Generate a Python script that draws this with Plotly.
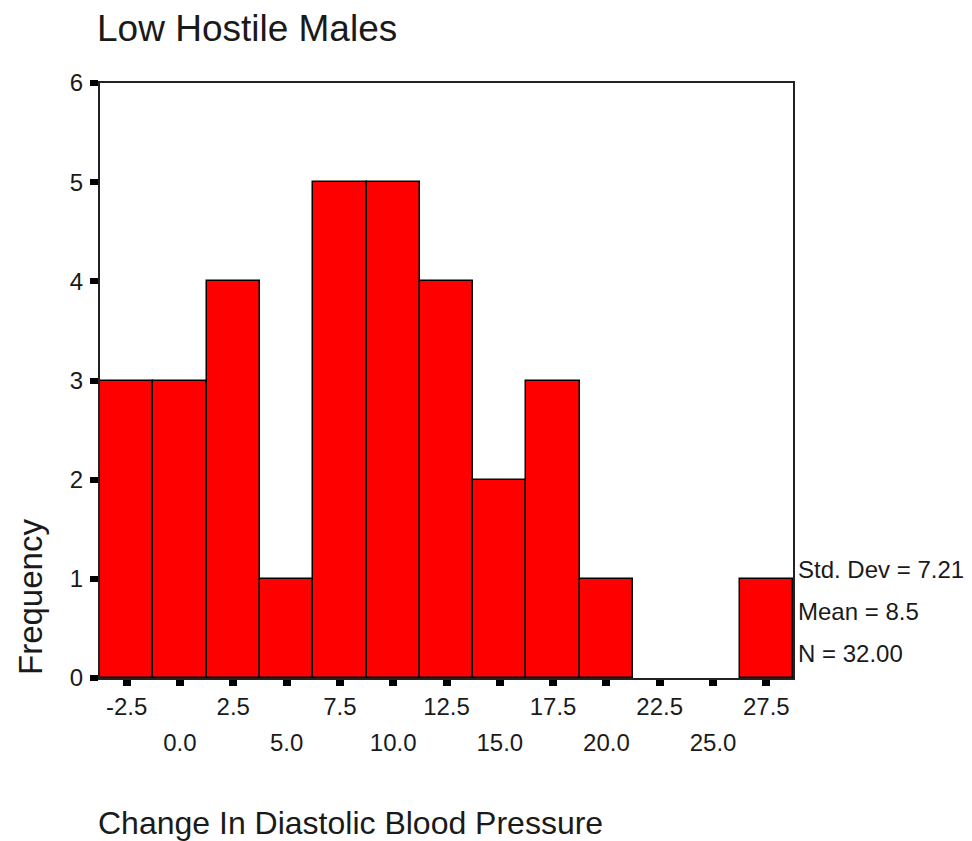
import plotly.graph_objects as go

# Data
bin_centers = [-2.5, 0.0, 2.5, 5.0, 7.5, 10.0, 12.5, 15.0, 17.5, 20.0, 22.5, 25.0, 27.5]
frequencies = [3, 3, 4, 1, 5, 5, 4, 2, 3, 1, 0, 0, 1]
bin_width = 2.5
row1_labels = ["-2.5", "", "2.5", "", "7.5", "", "12.5", "", "17.5", "", "22.5", "", "27.5"]
row2_labels = ["", "0.0", "", "5.0", "", "10.0", "", "15.0", "", "20.0", "", "25.0", ""]
y_ticks = [0, 1, 2, 3, 4, 5, 6]
stats_text = ["Std. Dev = 7.21", "Mean = 8.5", "N = 32.00"]
stats_y = [1.09, 0.67, 0.25]

FONT = "Liberation Sans, Arial, sans-serif"
TXT = "#1a1a1a"

fig = go.Figure()
fig.add_trace(go.Bar(
    x=bin_centers, y=frequencies, width=[bin_width] * len(bin_centers),
    marker=dict(color="#FF0000",
                line=dict(color="black", width=[1.5 if f > 0 else 0 for f in frequencies])),
    showlegend=False, hoverinfo="x+y",
))
# invisible trace for second axis
fig.add_trace(go.Scatter(x=[bin_centers[0]], y=[0], xaxis="x2", mode="markers",
                         marker=dict(opacity=0), showlegend=False, hoverinfo="skip"))

xr = [bin_centers[0] - bin_width / 2, bin_centers[-1] + bin_width / 2]

fig.update_layout(
    width=972, height=841,
    margin=dict(l=100, r=179, t=83, b=163),
    paper_bgcolor="white", plot_bgcolor="white",
    bargap=0,
    font=dict(family=FONT, color=TXT),
    title=dict(text="Low Hostile Males", x=97 / 972, xref="container", xanchor="left",
               y=1 - 28 / 841, yref="container", yanchor="middle",
               font=dict(size=37, family=FONT, color=TXT)),
    xaxis=dict(range=xr, tickmode="array", tickvals=bin_centers, ticktext=row1_labels,
               ticks="outside", ticklen=6, tickwidth=8, tickcolor="black",
               showline=True, linecolor="#222222", linewidth=2, mirror=True,
               showgrid=False, zeroline=False, fixedrange=True,
               tickfont=dict(size=24, family=FONT, color=TXT)),
    xaxis2=dict(range=xr, overlaying="x", side="bottom", anchor="y", tickmode="array",
                tickvals=bin_centers, ticktext=row2_labels, ticks="",
                ticklabelstandoff=48, showline=False, showgrid=False, zeroline=False,
                tickfont=dict(size=24, family=FONT, color=TXT)),
    yaxis=dict(range=[0, 6], tickmode="array", tickvals=y_ticks,
               ticks="outside", ticklen=8, tickwidth=6, tickcolor="black",
               showline=True, linecolor="#222222", linewidth=2, mirror=True,
               showgrid=False, zeroline=False, ticklabelstandoff=2,
               tickfont=dict(size=24, family=FONT, color=TXT)),
)

for t, yv in zip(stats_text, stats_y):
    fig.add_annotation(text=t, xref="paper", x=1, xanchor="left", xshift=3,
                       yref="y", y=yv, yanchor="middle", showarrow=False,
                       font=dict(size=24, family=FONT, color=TXT))

fig.add_annotation(text="Change In Diastolic Blood Pressure", xref="paper", x=0,
                   xanchor="left", xshift=-4, yref="paper", y=(678 - 823) / 595,
                   yanchor="middle", showarrow=False,
                   font=dict(size=32, family=FONT, color=TXT))
fig.add_annotation(text="Frequency", textangle=-90, xref="paper", x=(30 - 100) / 693,
                   xanchor="center", yref="paper", y=(678 - 597) / 595, yanchor="middle",
                   showarrow=False, font=dict(size=33, family=FONT, color=TXT))

fig.write_html("out.html")
